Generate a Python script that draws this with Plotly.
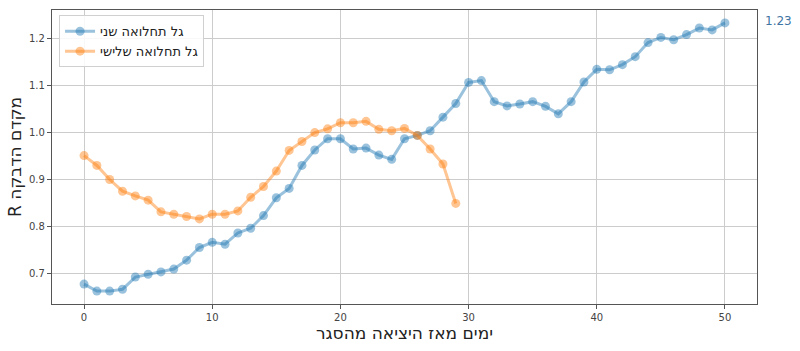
import plotly.graph_objects as go

days_second = list(range(51))
r_second = [0.677, 0.662, 0.662, 0.666, 0.692, 0.698, 0.703, 0.709, 0.728, 0.755,
            0.766, 0.762, 0.786, 0.796, 0.823, 0.861, 0.881, 0.930, 0.963, 0.987,
            0.987, 0.965, 0.967, 0.952, 0.943, 0.987, 0.994, 1.004, 1.033, 1.062,
            1.107, 1.111, 1.066, 1.057, 1.061, 1.066, 1.056, 1.040, 1.066, 1.108,
            1.135, 1.134, 1.145, 1.162, 1.192, 1.203, 1.198, 1.209, 1.223, 1.219,
            1.234]

days_third = list(range(30))
r_third = [0.951, 0.930, 0.900, 0.875, 0.865, 0.856, 0.831, 0.826, 0.821, 0.816,
           0.826, 0.826, 0.833, 0.862, 0.885, 0.918, 0.962, 0.981, 1.000, 1.008,
           1.021, 1.021, 1.024, 1.007, 1.004, 1.009, 0.994, 0.965, 0.933, 0.849]

name_second = "גל תחלואה שני"
name_third = "גל תחלואה שלישי"
x_title = "ימים מאז היציאה מהסגר"
y_title = "\u202Bמקדם הדבקה R\u202C"
last_label = "1.23"

x_ticks = [0, 10, 20, 30, 40, 50]
y_ticks = [0.7, 0.8, 0.9, 1.0, 1.1, 1.2]

FONT = "DejaVu Sans"

fig = go.Figure()
fig.add_trace(go.Scatter(
    x=days_second, y=r_second, mode="lines+markers", name=name_second,
    line=dict(color="rgba(31,119,180,0.45)", width=3),
    marker=dict(color="rgba(31,119,180,0.45)", size=9, line=dict(width=0)),
))
fig.add_trace(go.Scatter(
    x=days_third, y=r_third, mode="lines+markers", name=name_third,
    line=dict(color="rgba(255,127,14,0.45)", width=3),
    marker=dict(color="rgba(255,127,14,0.45)", size=9, line=dict(width=0)),
))

fig.add_annotation(
    x=1, xref="paper", y=r_second[-1], yref="y", text=last_label,
    showarrow=False, xanchor="left", xshift=6, yshift=2,
    font=dict(family=FONT, size=12, color="#3f74a3"),
)

axis_common = dict(
    showline=True, mirror=True, linecolor="#555", linewidth=1.2,
    showgrid=True, gridcolor="#cccccc", gridwidth=1,
    ticks="outside", ticklen=4, tickcolor="#555",
    tickfont=dict(family=FONT, size=10, color="#444"),
    zeroline=False, automargin=False,
)

fig.update_layout(
    width=800, height=351,
    margin=dict(l=52, r=43, t=10, b=47),
    plot_bgcolor="white", paper_bgcolor="white",
    font=dict(family=FONT),
    xaxis=dict(range=[-2.5, 52.5], tickvals=x_ticks,
               title=dict(text=x_title, font=dict(family=FONT, size=17, color="#222"), standoff=3),
               **axis_common),
    yaxis=dict(range=[0.6345, 1.2615], tickvals=y_ticks, tickformat=".1f",
               title=dict(text=y_title, font=dict(family=FONT, size=17, color="#222"), standoff=3),
               **axis_common),
    legend=dict(x=0.01, y=0.982, xanchor="left", yanchor="top",
                bgcolor="rgba(255,255,255,0.85)", bordercolor="#d0d0d0", borderwidth=1,
                font=dict(family=FONT, size=13, color="#222"),
                tracegroupgap=0, itemwidth=30),
    showlegend=True,
)

fig.write_html("out.html")
